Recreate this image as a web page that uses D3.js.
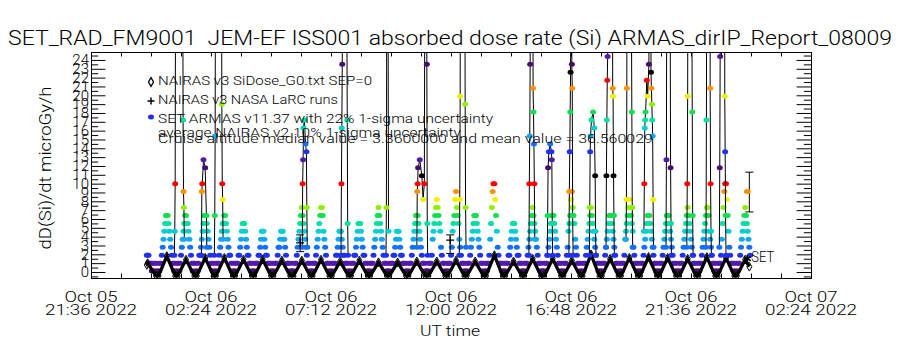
<!DOCTYPE html>
<html>
<head>
<meta charset="utf-8">
<script src="https://cdnjs.cloudflare.com/ajax/libs/d3/7.8.5/d3.min.js"></script>
<style>
  body { margin: 0; background: #fff; }
  svg { display: block; }
  svg text { font-family: Roboto, "DejaVu Sans", sans-serif; font-weight: 300; fill: #000; }
</style>
</head>
<body>
<div id="graphic"></div>
<script>
// times are minutes after 2022-10-06 00:00 UT
const day0 = Date.UTC(2022, 9, 6);
const xStart = "2022-10-05T21:36:00Z", xEnd = "2022-10-07T02:24:00Z";

const xTickDates = ["2022-10-05T21:36:00Z", "2022-10-06T02:24:00Z", "2022-10-06T07:12:00Z",
  "2022-10-06T12:00:00Z", "2022-10-06T16:48:00Z", "2022-10-06T21:36:00Z", "2022-10-07T02:24:00Z"];
const xTickLine1 = ["Oct 05", "Oct 06", "Oct 06", "Oct 06", "Oct 06", "Oct 06", "Oct 07"];
const xTickLine2 = ["21:36 2022", "02:24 2022", "07:12 2022", "12:00 2022", "16:48 2022", "21:36 2022", "02:24 2022"];
const yTicks = [0, 1, 2, 3, 4, 5, 6, 7, 8, 9, 10, 11, 12, 13, 14, 15, 16, 17, 18, 19, 20, 21, 22, 23, 24];

// SET ARMAS dose, one sample every 2 min from 23:50 UT, one row per dose hump
const armasStart = -10, armasStep = 2;
const armasDose = [
  1.9,1.9,1.9,1,1,1,0.1,1,0.1,1,0.1,1,0.1,
  0.1,1,0.1,1,1, 1.9,2.8,3.7,4.6,5.5,6.4,6.4,6.4,5.5,4.6,3.7,2.8,1.9, 1,1,0.1,1,0.1,
  0.1,1,1,0.1,1, 1.9,2.8,3.7,4.6,5.5,6.4,6.4,5.5,5.5,4.6,3.7,2.8,1.9, 1,0.1,1,1,0.1,
  0.1,1,0.1,1,1.9, 1.9,2.8,3.7,4.6,5.5,6.4,6.4,6.4,5.5,4.6,3.7,2.8,1.9, 1,1,0.1,1,0.1,
  0.1,1,0.1,1,1, 1.9,2.8,3.7,4.6,5.5,5.5,6.4,6.4,5.5,4.6,3.7,2.8,1.9, 1.9,1,0.1,1,0.1,
  0.1,1,0.1,1,1, 1.9,1.9,2.8,3.7,4.6,5.5,5.5,5.5,4.6,3.7,2.8,1.9,1.9, 1,1,0.1,1,0.1,
  0.1,1,0.1,1,1, 1,1.9,1.9,2.8,3.7,4.6,4.6,4.6,3.7,2.8,1.9,1.9,1, 1,1,0.1,1,0.1,
  0.1,1,0.1,1,1, 1,1.9,2.8,2.8,3.7,4.6,4.6,4.6,3.7,3.7,2.8,1.9,1, 1,1,0.1,1,0.1,0.1,
  0.1,1,0.1,1,1, 1.9,2.8,3.7,4.6,5.5,6.4,7.3,6.4,5.5,4.6,3.7,2.8,1.9, 1,1,0.1,1,0.1,
  0.1,1,0.1,1,1, 1.9,2.8,3.7,4.6,5.5,6.4,7.3,7.3,6.4,4.6,3.7,2.8,1.9, 1,1,0.1,1,0.1,
  0.1,1,0.1,1,1, 1,1.9,1.9,2.8,3.7,4.6,4.6,4.6,3.7,2.8,1.9,1.9,1, 1,1,0.1,1,0.1,
  0.1,1,0.1,1,1, 1.9,1.9,2.8,3.7,4.6,5.5,5.5,5.5,4.6,3.7,2.8,1.9,1.9, 1,1,0.1,1,0.1,
  0.1,1,0.1,1,1, 1.9,2.8,3.7,4.6,5.5,6.4,7.3,6.4,5.5,4.6,3.7,2.8,1.9, 1,1,0.1,1,0.1,
  0.1,1,0.1,1,1, 1,1.9,1.9,2.8,3.7,4.6,4.6,4.6,3.7,2.8,1.9,1.9,1, 1,1,0.1,1,0.1,
  0.1,1,0.1,1,1, 1.9,2.8,3.7,4.6,5.5,6.4,6.4,6.4,5.5,4.6,3.7,2.8,1.9, 1,1,0.1,1,0.1,0.1,
  0.1,1,0.1,1,1, 1.9,3.7,4.6,5.5,6.4,7.3,8.2,7.3,6.4,5.5,4.6,2.8,1.9, 1,1,0.1,1,0.1,
  0.1,1,0.1,1,1, 1.9,2.8,4.6,5.5,6.4,8.2,9.1,7.3,6.4,5.5,3.7,2.8,1.9, 1,1,0.1,1,0.1,
  0.1,1,0.1,1,1, 1.9,2.8,3.7,4.6,5.5,6.4,6.4,6.4,5.5,4.6,3.7,2.8,1.9, 1,1,0.1,1,0.1,
  0.1,1,0.1,1,1, 1.9,3.7,5.5,7.3,9.1,10,10,8.2,6.4,4.6,2.8,1.9,1, 1,1,0.1,1,0.1,
  0.1,1,0.1,1,1, 1.9,1.9,2.8,3.7,4.6,5.5,5.5,5.5,4.6,3.7,2.8,1.9,1.9, 1,1,0.1,1,0.1,
  0.1,1,0.1,1,1, 1.9,2.8,3.7,4.6,5.5,6.4,7.3,6.4,5.5,4.6,3.7,2.8,1.9, 1,1,0.1,1,0.1,0.1,
  0.1,1,0.1,1,1, 1.9,2.8,3.7,4.6,5.5,6.4,6.4,6.4,5.5,4.6,3.7,2.8,1.9, 1,1,0.1,1,0.1,
  0.1,1,0.1,1,1, 1.9,2.8,4.6,5.5,6.4,8.2,9.1,7.3,6.4,5.5,3.7,2.8,1.9, 1,1,0.1,1,0.1,
  0.1,1,0.1,1,1, 1.9,2.8,3.7,4.6,5.5,6.4,7.3,6.4,5.5,4.6,3.7,2.8,1.9, 1,1,0.1,1,0.1,
  0.1,1,0.1,1,1, 1.9,2.8,3.7,4.6,5.5,6.4,6.4,6.4,5.5,4.6,3.7,2.8,1.9, 1,1,0.1,1,0.1,
  0.1,1,0.1,1,1, 1.9,3.7,4.6,5.5,6.4,7.3,8.2,7.3,6.4,5.5,4.6,2.8,1.9, 1,1,0.1,1,0.1,
  0.1,1,0.1,1,1, 1.9,2.8,3.7,4.6,5.5,6.4,6.4,6.4,5.5,4.6,3.7,2.8,1.9, 1,1,0.1,1,0.1,
  0.1,1,0.1,1,1, 1.9,2.8,3.7,4.6,5.5,6.4,6.4,6.4,5.5,4.6,3.7,2.8,1.9, 1,1,0.1,1,0.1,0.1,
  0.1,1,0.1,1,1, 1.9,2.8,3.7,4.6,5.5,6.4,7.3,6.4,5.5,4.6,3.7,2.8,1.9, 1,1,0.1,1,0.1,
  0.1,1,0.1,1,1, 1.9,2.8,3.7,4.6,5.5,6.4,7.3,7.3,6.4,4.6,3.7,2.8,1.9, 1,1,0.1,1,0.1,
  0.1,1,0.1,1,1, 1.9,3.7,5.5,7.3,9.1,10,10,8.2,6.4,4.6,2.8,1.9,1, 1,1,0.1,1,0.1,
  0.1,1,0.1,1,1, 1.9,2.8,3.7,4.6,5.5,6.4,7.3,6.4,5.5,4.6,3.7,2.8,1.9
];

// ARMAS SAA passes, [minute, dose]; the tops run off the plot
const saaPasses = [
  [[56,1.9],[57,4.6],[58,10],[59,35],[60,90],[75,90],[76,40],[77,17.2],[78,9.1],[79,7.3],[80,3.7]],
  [[121,1.9],[122,9.1],[123,10],[126,12.7],[130,11.8],[133,6.4],[134,2.8]],
  [[152,1.9],[153,6.4],[154,15.4],[155,50],[156,90],[168,90],[169,40],[170,19],[171,10],[172,8.2],[173,3.7]],
  [[363,2.8],[364,10],[365,12.7],[366,16.3],[368,17.2],[371,14.5],[373,13.6],[374,7.3],[375,2.8]],
  [[456,1.9],[457,10],[458,16.3],[459,23.5],[460,90],[469,90],[470,30],[471,17.2],[472,5.5],[473,1.9]],
  [[564,1.9],[565,7.3],[566,40],[567,90],[568,90],[569,30],[570,4.6]],
  [[638,2.8],[639,9.1],[640,10],[641,11.8],[645,12.7],[650,10.9],[653,8.2],[656,10],[657,30],[658,90],[661,90],[662,23.5],[663,5.5],[664,1.9]],
  [[740,1.9],[741,8.2],[742,19.9],[743,60],[744,90],[752,90],[753,40],[754,19],[755,7.3],[756,2.8]],
  [[907,1.9],[908,10],[909,15.4],[910,23.5],[911,90],[916,90],[917,20.8],[918,18.1],[919,14.5],[920,10],[921,3.7]],
  [[951,1.9],[952,6.4],[953,11.8],[955,13.6],[958,14.5],[961,13.6],[962,12.7],[963,5.5],[964,1.9]],
  [[1003,1.9],[1004,9.1],[1005,13.6],[1006,18.1],[1007,22.6],[1008,90],[1009,90],[1010,23.5],[1011,20.8],[1012,6.4],[1013,1.9]],
  [[1052,1.9],[1053,7.3],[1054,13.6],[1055,15.4],[1057,17.2],[1061,18.1],[1064,16.3],[1066,10.9],[1067,4.6],[1068,1.9]],
  [[1092,2.8],[1093,10.9],[1094,17.2],[1095,21.7],[1096,24.4],[1097,90],[1107,90],[1108,20.8],[1109,19.9],[1110,10.9],[1111,6.4],[1112,1.9]],
  [[1140,3.7],[1141,8.2],[1142,20.8],[1143,90],[1152,90],[1153,30],[1154,18.1],[1155,7.3],[1156,2.8]],
  [[1183,4.6],[1184,10],[1185,16.3],[1186,17.2],[1187,18.1],[1190,21.7],[1192,19.9],[1195,23.5],[1197,90],[1199,90],[1200,22.6],[1201,20.8],[1202,19],[1203,17.2],[1204,15.4],[1205,8.2],[1206,2.8]],
  [[1236,2.8],[1237,12.7],[1238,40],[1239,90],[1245,90],[1246,30],[1247,11.8],[1248,5.5],[1249,1.9]],
  [[1286,2.8],[1287,10],[1288,19.9],[1289,60],[1290,90],[1297,90],[1298,30],[1299,18.1],[1300,6.4],[1301,1.9]],
  [[1332,2.8],[1333,17.2],[1334,40],[1335,90],[1341,90],[1342,20.8],[1343,10],[1344,4.6],[1345,1.9]],
  [[1364,2.8],[1365,11.8],[1366,24.4],[1367,90],[1376,90],[1377,19.9],[1378,13.6],[1379,6.4],[1380,1.9]]
];

// NAIRAS v3 SiDose_G0 SEP=0, [minute, dose]
const nairas = [
  [-10,0.8],[-8,1.0],[12,-0.45],
  [18,-0.45],[38,1.8],[58,-0.45],
  [64,-0.45],[84,1.4],[104,-0.45],
  [110,-0.45],[130,1.6],[150,-0.45],
  [156,-0.45],[176,1.6],[196,-0.45],
  [202,-0.45],[222,1.4],[242,-0.45],
  [248,-0.45],[268,1.4],[288,-0.45],
  [294,-0.45],[314,1.3],[334,-0.45],
  [342,-0.45],[362,1.3],[382,-0.45],
  [388,-0.45],[408,1.4],[428,-0.45],
  [434,-0.45],[454,1.2],[474,-0.45],
  [480,-0.45],[500,1.3],[520,-0.45],
  [526,-0.45],[546,1.1],[566,-0.45],
  [572,-0.45],[592,1.1],[612,-0.45],
  [618,-0.45],[638,1.2],[658,-0.45],
  [666,-0.45],[686,1.2],[706,-0.45],
  [712,-0.45],[732,1.3],[752,-0.45],
  [758,-0.45],[778,1.2],[798,-0.45],
  [804,-0.45],[824,1.9],[844,-0.45],
  [850,-0.45],[870,1.2],[890,-0.45],
  [896,-0.45],[916,1.5],[936,-0.45],
  [944,-0.45],[964,1.5],[984,-0.45],
  [990,-0.45],[1010,1.3],[1030,-0.45],
  [1036,-0.45],[1056,2.0],[1076,-0.45],
  [1082,-0.45],[1102,1.5],[1122,-0.45],
  [1128,-0.45],[1148,1.6],[1168,-0.45],
  [1174,-0.45],[1194,1.7],[1214,-0.45],
  [1220,-0.45],[1240,1.6],[1260,-0.45],
  [1268,-0.45],[1288,1.5],[1308,-0.45],
  [1314,-0.45],[1334,1.7],[1354,-0.45],
  [1360,-0.45],[1380,1.6],[1400,-0.45],
  [1406,-0.45],[1426,1.4],[1436,0.6]
];

// NASA LaRC runs (+) with the average NAIRAS v2 10% band
const larcMin = [358, 718];
const larcDose = [3.3, 3.6];
const larcLow = [2.3, 2.1];
const larcHigh = [4.2, 4.2];

// ARMAS average with 22% band, and the SET marker, at the end of the record
const armasMeanMin = [1436], armasMean = [9.1], armasMeanLow = [6.8], armasMeanHigh = [11.3];
const setMarkMin = [1431], setMarkDose = [1.5];

const legendText = [
  "NAIRAS v3 SiDose_G0.txt SEP=0",
  "NAIRAS v3 NASA LaRC runs",
  "SET ARMAS v11.37 with 22% 1-sigma uncertainty",
  "average NAIRAS v2 10% 1-sigma uncertainty",
  "Cruise altitude median value = 3.3600000 and mean value = 36.560029"
];

// colour table repeats every 13 dose steps of 0.9 microGy/h
const levelColors = ["#000000", "#4b0a6e", "#5418b0", "#2030f0", "#1470ff", "#10a8f0", "#00d0d0",
  "#00e0a0", "#10e050", "#90f000", "#f0f000", "#ff9000", "#ff0000"];
const dotColor = v => levelColors[(Math.round((v - 0.1) / 0.9) + 1 + 13) % 13];

const W = 900, H = 350;
const margin = {top: 52, right: 89, bottom: 72, left: 91};
const width = W - margin.left - margin.right;   // 720
const height = H - margin.top - margin.bottom;  // 226

const svg = d3.select("#graphic").append("svg").attr("width", W).attr("height", H);
svg.append("rect").attr("width", W).attr("height", H).attr("fill", "#fff");

const g = svg.append("g").attr("transform", "translate(" + margin.left + "," + margin.top + ")");

const at = m => new Date(day0 + m * 60000);
const x = d3.scaleTime().domain([new Date(xStart), new Date(xEnd)]).range([0, width]);
const y = d3.scaleLinear().domain([-0.68, 24.9]).range([height, 0]);

g.append("defs").append("clipPath").attr("id", "plotclip")
  .append("rect").attr("width", width).attr("height", height);
const plot = g.append("g").attr("clip-path", "url(#plotclip)");

// ARMAS dots
const armas = armasDose.map((v, i) => ({t: at(armasStart + i * armasStep), v: v}));
plot.append("g").selectAll("ellipse").data(armas).join("ellipse")
  .attr("cx", d => x(d.t)).attr("cy", d => y(d.v))
  .attr("rx", 3).attr("ry", 2.5)
  .attr("fill", d => dotColor(d.v));

// NAIRAS humps
const pairLine = d3.line().x(d => x(at(d[0]))).y(d => y(d[1]));
plot.append("path").datum(nairas)
  .attr("d", pairLine).attr("fill", "none")
  .attr("stroke", "#000").attr("stroke-width", 3.3);
plot.append("g").selectAll("path").data(nairas).join("path")
  .attr("transform", d => "translate(" + x(at(d[0])) + "," + y(d[1]) + ")")
  .attr("d", d3.symbol(d3.symbolDiamond, 22))
  .attr("fill", "none").attr("stroke", "#000");

// SAA passes: line then dots
plot.append("g").selectAll("path").data(saaPasses).join("path")
  .attr("d", pairLine).attr("fill", "none")
  .attr("stroke", "#000").attr("stroke-width", 1);
plot.append("g").selectAll("ellipse").data(saaPasses.flat()).join("ellipse")
  .attr("cx", d => x(at(d[0]))).attr("cy", d => y(d[1]))
  .attr("rx", 3).attr("ry", 2.5)
  .attr("fill", d => dotColor(d[1]));

// error bars
function errorBar(sel, mins, lo, hi) {
  mins.forEach((m, i) => {
    const cx = x(at(m));
    sel.append("line").attr("x1", cx).attr("x2", cx).attr("y1", y(lo[i])).attr("y2", y(hi[i]));
    [lo[i], hi[i]].forEach(v => sel.append("line")
      .attr("x1", cx - 4).attr("x2", cx + 4).attr("y1", y(v)).attr("y2", y(v)));
  });
}
const bars = plot.append("g").attr("stroke", "#000").attr("stroke-width", 1);
errorBar(bars, larcMin, larcLow, larcHigh);
errorBar(bars, armasMeanMin, armasMeanLow, armasMeanHigh);

plot.append("g").selectAll("path").data(larcMin).join("path")
  .attr("transform", (m, i) => "translate(" + x(at(m)) + "," + y(larcDose[i]) + ")")
  .attr("d", "M-4,0H4M0,-4V4").attr("stroke", "#000").attr("stroke-width", 1.2);

plot.append("g").selectAll("ellipse").data(armasMeanMin).join("ellipse")
  .attr("cx", m => x(at(m)) - 2).attr("cy", (m, i) => y(armasMean[i]))
  .attr("rx", 3.5).attr("ry", 2.5).attr("fill", (m, i) => dotColor(armasMean[i]));

plot.append("g").selectAll("path").data(setMarkMin).join("path")
  .attr("transform", (m, i) => "translate(" + x(at(m)) + "," + y(setMarkDose[i]) + ")")
  .attr("d", d3.symbol(d3.symbolAsterisk, 45))
  .attr("fill", "none").attr("stroke", "#000").attr("stroke-width", 1.6);
g.append("text")
  .attr("x", x(at(setMarkMin[0])) + 4).attr("y", y(setMarkDose[0]) + 3)
  .attr("font-size", 14).attr("textLength", 23).attr("lengthAdjust", "spacingAndGlyphs")
  .text("SET");

// axes
const minorX = d3.range(0, 25).map(i => new Date(+x.domain()[0] + i * 72 * 60000));
const yMinor = d3.range(-0.5, 25, 1);
const noDomain = s => s.select(".domain").remove();

g.append("g").attr("transform", "translate(0," + height + ")")
  .call(d3.axisBottom(x).tickValues(minorX).tickSize(-4.5).tickFormat("")).call(noDomain);
g.append("g")
  .call(d3.axisTop(x).tickValues(minorX).tickSize(-4.5).tickFormat("")).call(noDomain);

g.append("g")
  .call(d3.axisLeft(y).tickValues(yTicks).tickSize(-14.4).tickPadding(2).tickFormat(d3.format("d")))
  .call(noDomain)
  .attr("font-family", null).attr("font-size", 15);
g.append("g")
  .call(d3.axisLeft(y).tickValues(yMinor).tickSize(-7.2).tickFormat("")).call(noDomain);
g.append("g").attr("transform", "translate(" + width + ",0)")
  .call(d3.axisRight(y).tickValues(yTicks).tickSize(-14.4).tickFormat("")).call(noDomain);
g.append("g").attr("transform", "translate(" + width + ",0)")
  .call(d3.axisRight(y).tickValues(yMinor).tickSize(-7.2).tickFormat("")).call(noDomain);

g.append("rect").attr("x", 0.5).attr("y", 0.5).attr("width", width).attr("height", height)
  .attr("fill", "none").attr("stroke", "#000");

// x labels, two lines each
const xl = g.append("g").attr("text-anchor", "middle").attr("font-size", 15);
xTickDates.forEach((d, i) => {
  const px = x(new Date(d));
  xl.append("text").attr("x", px).attr("y", height + 24)
    .attr("textLength", 53).attr("lengthAdjust", "spacingAndGlyphs").text(xTickLine1[i]);
  xl.append("text").attr("x", px).attr("y", height + 37)
    .attr("textLength", 92).attr("lengthAdjust", "spacingAndGlyphs").text(xTickLine2[i]);
});

svg.append("text").attr("x", 450).attr("y", 336).attr("text-anchor", "middle")
  .attr("font-size", 15).attr("textLength", 60).attr("lengthAdjust", "spacingAndGlyphs")
  .text("UT time");

svg.append("text").attr("transform", "translate(51,168) rotate(-90)")
  .attr("text-anchor", "middle").attr("font-size", 16)
  .attr("textLength", 163).attr("lengthAdjust", "spacingAndGlyphs")
  .text("dD(Si)/dt microGy/h");

svg.append("text").attr("x", 8).attr("y", 45).attr("font-size", 21)
  .attr("textLength", 884).attr("lengthAdjust", "spacingAndGlyphs")
  .style("white-space", "pre")
  .text("SET_RAD_FM9001  JEM-EF ISS001 absorbed dose rate (Si) ARMAS_dirIP_Report_08009");

// legend
const legBase = [85, 104, 123, 136.5, 143.3];
const legLen = [214, 180, 335, 303, 495];
const leg = svg.append("g").attr("font-size", 13);
legendText.forEach((t, i) => {
  leg.append("text").attr("x", 158).attr("y", legBase[i])
    .attr("textLength", legLen[i]).attr("lengthAdjust", "spacingAndGlyphs").text(t);
});
leg.append("path").attr("transform", "translate(151,82)")
  .attr("d", d3.symbol(d3.symbolDiamond, 22)).attr("fill", "none").attr("stroke", "#000").attr("stroke-width", 1.3);
leg.append("path").attr("transform", "translate(151,101)")
  .attr("d", "M-3.5,0H3.5M0,-3.5V3.5").attr("stroke", "#000").attr("stroke-width", 1.5);
leg.append("ellipse").attr("cx", 151).attr("cy", 117).attr("rx", 3).attr("ry", 2.5).attr("fill", "#2030f0");
</script>
</body>
</html>
